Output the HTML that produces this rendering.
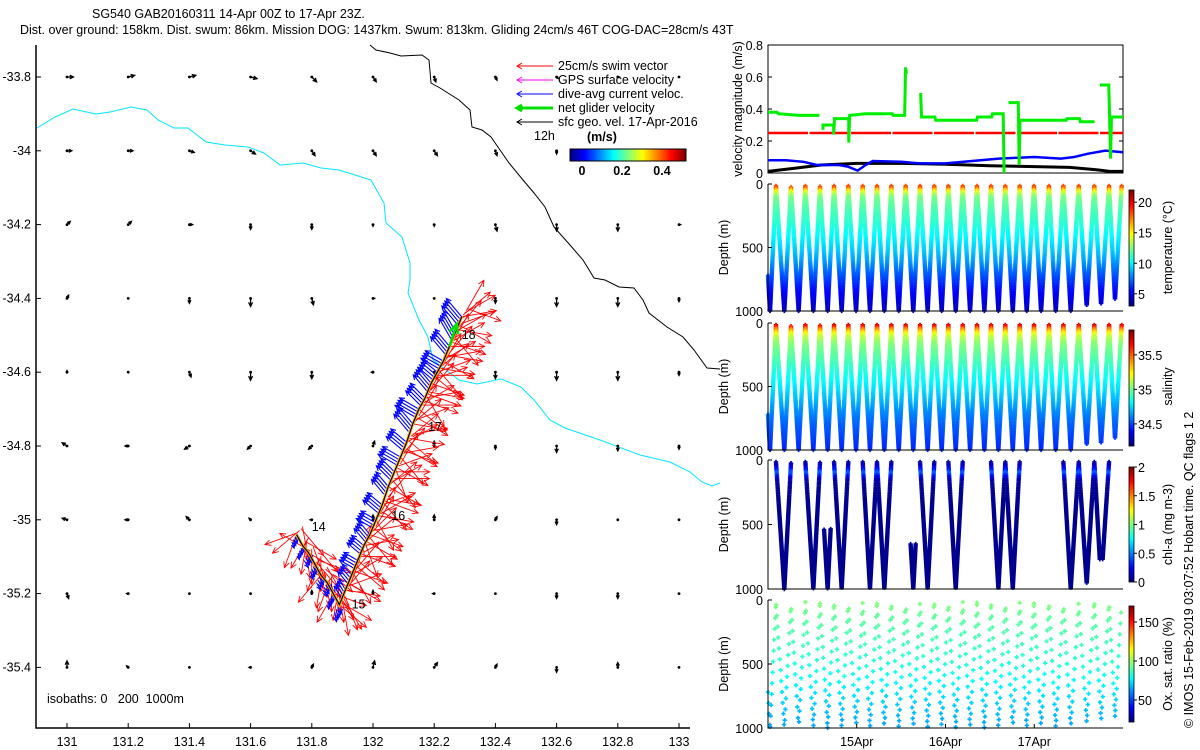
<!DOCTYPE html>
<html><head><meta charset="utf-8">
<style>
html,body{margin:0;padding:0;background:#fff;}
svg{display:block;font-family:"Liberation Sans",Arial,sans-serif;}
text{font-size:12.5px;fill:#000;}
</style></head>
<body>
<svg id="fig" width="1200" height="750" viewBox="0 0 1200 750" xmlns="http://www.w3.org/2000/svg">
<defs>
<linearGradient id="jetH" x1="0" x2="1" y1="0" y2="0">
<stop offset="0" stop-color="#000080"/><stop offset="0.125" stop-color="#0000ff"/><stop offset="0.375" stop-color="#00ffff"/><stop offset="0.625" stop-color="#ffff00"/><stop offset="0.875" stop-color="#ff0000"/><stop offset="1" stop-color="#800000"/>
</linearGradient>
<linearGradient id="jetV" x1="0" x2="0" y1="1" y2="0">
<stop offset="0" stop-color="#000080"/><stop offset="0.125" stop-color="#0000ff"/><stop offset="0.375" stop-color="#00ffff"/><stop offset="0.625" stop-color="#ffff00"/><stop offset="0.875" stop-color="#ff0000"/><stop offset="1" stop-color="#800000"/>
</linearGradient>
</defs>
<text x="92" y="18">SG540 GAB20160311 14-Apr 00Z to 17-Apr 23Z.</text>
<text x="20" y="34">Dist. over ground: 158km. Dist. swum: 86km. Mission DOG: 1437km. Swum: 813km. Gliding 24cm/s 46T COG-DAC=28cm/s 43T</text>
<g id="map"></g>
<g id="right"></g>
<text transform="translate(1193,728) rotate(-90)">© IMOS 15-Feb-2019 03:07:52 Hobart time. QC flags 1 2</text>
</svg>
<script>
// ---------------- data ----------------
const lonTicks = [131,131.2,131.4,131.6,131.8,132,132.2,132.4,132.6,132.8,133];
const latTicks = [-33.8,-34,-34.2,-34.4,-34.6,-34.8,-35,-35.2,-35.4];
const geoU = [
 [0.04,0.04,0.04,0.04,0.03,0.02,0.01,0.01,0.01,0.01,0.0],
 [0.03,0.03,0.03,0.03,0.02,0.02,0.02,0.01,0.0,0.0,0.0],
 [0.02,0.02,0.02,0.0,0.0,0.0,0.0,0.01,0.0,0.0,0.01],
 [0.01,0.0,0.0,0.0,0.01,0.01,0.0,0.0,0.0,0.0,0.0],
 [0.0,0.0,0.01,0.0,0.0,-0.01,0.0,0.0,0.0,0.0,0.0],
 [-0.03,-0.02,-0.03,-0.02,-0.02,0.01,0.0,0.0,0.0,0.0,0.0],
 [-0.03,-0.02,-0.02,-0.01,-0.01,0.0,0.0,0.01,0.0,0.0,0.0],
 [0.01,-0.01,0.0,0.0,0.0,0.0,-0.01,0.0,0.0,0.0,0.0],
 [0.0,-0.01,0.0,-0.01,0.01,0.01,0.02,0.01,0.0,0.0,0.0]];
const geoV = [
 [0.0,0.01,0.01,-0.01,-0.03,-0.03,-0.03,-0.02,-0.01,0.0,0.0],
 [0.0,0.0,-0.01,-0.02,-0.03,-0.03,-0.03,-0.03,-0.02,-0.01,-0.01],
 [0.02,0.02,0.0,-0.03,-0.03,-0.01,-0.01,-0.04,-0.04,-0.04,0.0],
 [0.02,0.0,-0.03,-0.05,-0.04,0.0,0.0,-0.03,-0.05,-0.05,-0.02],
 [0.01,0.0,-0.03,-0.05,-0.04,0.0,-0.01,-0.04,-0.05,-0.05,-0.02],
 [0.02,0.0,-0.02,-0.02,-0.02,0.03,0.03,-0.02,-0.04,-0.03,-0.02],
 [0.01,0.0,0.02,0.01,0.0,0.03,0.03,0.02,-0.03,0.0,0.0],
 [-0.03,0.0,0.0,0.0,0.02,0.02,0.0,0.0,-0.03,-0.03,0.0],
 [0.04,0.01,0.0,0.0,0.02,0.04,0.03,0.02,-0.03,0.03,0.0]];
const fixLon = [131.75,131.77,131.79,131.81,131.83,131.85,131.87,131.89,131.91,131.93,131.95,131.97,131.99,132.01,132.03,132.05,132.07,132.09,132.11,132.13,132.15,132.17,132.19,132.21,132.23,132.25,132.27,132.29];
const fixLat = [-35.04,-35.07,-35.09,-35.12,-35.15,-35.17,-35.20,-35.23,-35.19,-35.15,-35.11,-35.07,-35.04,-35.00,-34.96,-34.91,-34.87,-34.83,-34.79,-34.74,-34.70,-34.67,-34.63,-34.60,-34.57,-34.53,-34.49,-34.45];
const swimDirA = [200,150,120,160,220,140,110,130,100,60,130,80,110,150,70,120,90,140,60,100,130,80,110,70,120,90,60,80];
const swimDirB = [250,170,300,140,190,160,210,120,40,150,20,160,45,30,140,50,160,40,130,50,30,150,40,140,60,30,100,50];
const swimDirC = [230,120,180,110,170,200,150,170,70,110,90,120,80,100,110,60,120,80,100,70,90,110,70,100,80,110,40,60];
const swimDirD = [140,190,160,200,130,180,170,150,120,40,110,50,130,60,100,140,70,110,50,120,60,100,130,50,100,60,120,30];
const swimDirE = [170,210,140,180,150,120,190,160,20,130,60,140,30,120,40,90,30,120,80,30,110,40,90,30,40,140,70,110];
const swimSpd = 0.22;
const dacDir = [160,170,150,160,150,140,180,170,330,320,300,310,320,300,310,320,315,300,310,320,300,315,320,310,300,320,330,320];
const dacSpd = [0.04,0.04,0.05,0.05,0.05,0.05,0.05,0.06,0.08,0.09,0.10,0.10,0.11,0.11,0.12,0.12,0.12,0.13,0.13,0.14,0.14,0.13,0.13,0.12,0.13,0.14,0.15,0.15];
const dayLabels = ['14','15','16','17','18'];
const dayLon = [131.80,131.93,132.06,132.18,132.29];
const dayLat = [-35.03,-35.24,-35.00,-34.76,-34.51];
const coastPx = [[370,45],[376,50],[390,53],[401,56],[422,55],[429,60],[431,83],[440,88],[459,100],[470,110],[472,127],[482,130],[491,137],[500,150],[509,163],[523,180],[534,193],[545,207],[554,227],[570,245],[583,260],[594,278],[605,280],[619,287],[634,288],[643,300],[649,313],[667,327],[683,337],[694,350],[707,368],[720,369]];
const iso200Px = [[37,128],[55,117],[73,109],[96,114],[110,112],[131,107],[147,110],[158,120],[174,128],[188,128],[206,142],[225,145],[248,147],[264,153],[280,165],[303,163],[321,168],[339,170],[355,175],[371,180],[384,203],[386,223],[402,237],[410,263],[410,280],[408,293],[419,320],[428,337],[433,360],[459,380],[477,384],[501,379],[521,387],[534,400],[550,420],[565,428],[600,440],[640,455],[670,462],[690,472],[702,482],[712,486],[720,483]];

const netVel = [[0,0.38],[0.1,0.38],[0.12,0.37],[0.35,0.36],[0.45,0.36],[0.58,0.36],null,[0.62,0.27],[0.62,0.30],[0.74,0.30],[0.74,0.24],[0.75,0.34],[0.91,0.34],[0.91,0.19],[0.92,0.36],[1.1,0.37],[1.4,0.37],[1.41,0.36],[1.54,0.36],[1.55,0.66],[1.56,0.62],null,[1.72,0.50],[1.73,0.35],[1.88,0.35],[1.89,0.33],[2.35,0.33],[2.36,0.35],[2.52,0.35],[2.53,0.37],[2.65,0.37],[2.66,0.0],null,[2.71,0.44],[2.82,0.44],[2.83,0.05],[2.84,0.33],[3.36,0.33],[3.37,0.34],[3.51,0.34],[3.52,0.32],[3.68,0.32],null,[3.74,0.55],[3.84,0.55],[3.86,0.09],[3.87,0.35],[4.0,0.35]];
const swimVel = [[0,0.25],[4,0.25]];
const dacVel = [[0,0.08],[0.2,0.08],[0.4,0.07],[0.55,0.05],[0.8,0.05],[0.9,0.04],[1.01,0.015],[1.1,0.05],[1.18,0.075],[1.5,0.07],[1.7,0.06],[2.0,0.06],[2.3,0.075],[2.6,0.09],[3.0,0.10],[3.3,0.09],[3.45,0.10],[3.6,0.12],[3.8,0.14],[4.0,0.13]];
const geoVel = [[0,0.01],[0.3,0.03],[0.6,0.05],[1.0,0.06],[1.5,0.06],[2.0,0.055],[2.5,0.045],[3.0,0.04],[3.4,0.035],[3.7,0.02],[3.85,0.01],[4.0,0.01]];
const velTicks = [0,0.2,0.4,0.6,0.8];

const diveStart = [0.0,720];
const bottomT = [0.023,0.184,0.345,0.511,0.672,0.830,0.992,1.149,1.311,1.473,1.637,1.799,1.957,2.115,2.277,2.438,2.596,2.758,2.915,3.077,3.242,3.411,3.591,3.753,3.910];
const bottomD = [1000,1000,1000,1000,1000,1000,1000,1000,1000,1000,1000,1000,1000,1000,1000,1000,1000,1000,1000,1000,1000,1000,960,950,910];
const surfT = [0.090,0.259,0.421,0.586,0.744,0.905,1.067,1.228,1.390,1.551,1.713,1.874,2.032,2.194,2.355,2.513,2.674,2.836,2.997,3.166,3.328,3.501,3.677,3.843,3.985];
const surfD = [15,25,15,20,15,15,15,15,15,15,15,15,15,15,15,15,15,15,15,15,15,15,15,15,15];
const chlMin = [0,0,0,0,530,0,0,0,0,0,650,0,0,0,0,0,0,0,0,0,0,0,0,0,0];
const chlMax = [0,1000,0,1000,1000,1000,0,1000,1000,0,1000,1000,0,1000,0,0,1000,1000,0,0,0,1000,1000,770,0];
const profDepth = [0,30,60,100,150,200,300,400,500,600,700,800,900,1000];
const tempProf = [18.5,18,14.5,12.5,12,11.6,11,10.2,9.4,8.4,7.2,6,5,4.2];
const salProf = [35.85,35.6,35.35,35.15,35.05,35.0,34.93,34.85,34.78,34.7,34.62,34.55,34.5,34.45];
const chlProf = [0.05,0.1,0.2,0.45,0.1,0.04,0.03,0.03,0.03,0.03,0.03,0.03,0.03,0.03];
const oxyProf = [97,96,95,93,91,90,88,85,82,79,75,71,67,64];
const dateLabels = ['15Apr','16Apr','17Apr'];
const dateTicks = [1,2,3];

// ---------------- helpers ----------------
const NS='http://www.w3.org/2000/svg';
function mk(tag,attrs,parent){const e=document.createElementNS(NS,tag);for(const k in attrs)e.setAttribute(k,attrs[k]);(parent||svg).appendChild(e);return e;}
const svg=document.getElementById('fig');
const mapG=document.getElementById('map');
const rG=document.getElementById('right');
function jet(v){v=Math.max(0,Math.min(1,v));const c=x=>Math.round(255*Math.max(0,Math.min(1,1.5-Math.abs(4*v-x))));return `rgb(${c(3)},${c(2)},${c(1)})`;}
function interp(d,xs,ys){if(d<=xs[0])return ys[0];for(let i=1;i<xs.length;i++){if(d<=xs[i]){const f=(d-xs[i-1])/(xs[i]-xs[i-1]);return ys[i-1]+f*(ys[i]-ys[i-1]);}}return ys[ys.length-1];}
const LX=lon=>67+(lon-131)*306;
const LY=lat=>77+(-33.8-lat)*369;
const PXS=160;

function arrow(g,x,y,u,v,color,w,head,name){
  const dx=u*PXS, dy=-v*PXS; const L=Math.hypot(dx,dy);
  const x2=x+dx,y2=y+dy;
  const ln=mk('line',{x1:x,y1:y,x2:x2,y2:y2,stroke:color,'stroke-width':w},g);
  
  
  if(L>0.5){const ang=Math.atan2(dy,dx),h=Math.min(head,L*0.4)+1.5;
    const p=mk('path',{d:`M${x2-h*Math.cos(ang-0.45)},${y2-h*Math.sin(ang-0.45)} L${x2},${y2} L${x2-h*Math.cos(ang+0.45)},${y2-h*Math.sin(ang+0.45)}`,stroke:color,fill:'none','stroke-width':w},g);
    
    }
}

// ---------------- map ----------------
(function(){
  const ax=mk('path',{d:'M36,45 L36,728 L690,728',stroke:'#000',fill:'none','stroke-width':1.5},mapG);
  
  
  lonTicks.forEach(l=>{const x=LX(l);
    mk('line',{x1:x,y1:728,x2:x,y2:723,stroke:'#000'},mapG);
    const t=mk('text',{x:x,y:746,'text-anchor':'middle'},mapG);t.textContent=String(l);
    
    });
  latTicks.forEach(l=>{const y=LY(l);
    mk('line',{x1:36,y1:y,x2:41,y2:y,stroke:'#000'},mapG);
    const t=mk('text',{x:31,y:y+4,'text-anchor':'end'},mapG);t.textContent=String(l);
    
    });
  const c=mk('polyline',{points:coastPx.map(p=>p.join(',')).join(' '),fill:'none',stroke:'#000','stroke-width':1},mapG);
  
  
  const i2=mk('polyline',{points:iso200Px.map(p=>p.join(',')).join(' '),fill:'none',stroke:'#00e5ff','stroke-width':1},mapG);
  
  
  latTicks.forEach((lat,r)=>lonTicks.forEach((lon,cI)=>{
    const x=LX(lon),y=LY(lat);
    const d=mk('circle',{cx:x,cy:y,r:1.4,fill:'#000'},mapG);
    
    
    arrow(mapG,x,y,geoU[r][cI],geoV[r][cI],'#000',1.3,3,'geo-vector');
  }));
  fixLon.forEach((lon,i)=>{const x=LX(lon),y=LY(fixLat[i]);
    [swimDirA,swimDirB,swimDirC,swimDirD,swimDirE].forEach((arr,k)=>{const a=arr[i]*Math.PI/180;
      arrow(mapG,x+k*1.5,y-k*2,swimSpd*Math.sin(a),swimSpd*Math.cos(a),'#ff0000',0.9,5,'swim-vector');});
  });
  fixLon.forEach((lon,i)=>{const x=LX(lon),y=LY(fixLat[i]);const a=dacDir[i]*Math.PI/180;
    for(let k=0;k<4;k++){const xx=x-k*1.5,yy=y+k*2.5;
      arrow(mapG,xx,yy,dacSpd[i]*Math.sin(a),dacSpd[i]*Math.cos(a),'#0000ff',1.1,4,'dac-vector');}
  });
  const tp=fixLon.map((lon,i)=>LX(lon)+','+LY(fixLat[i])).join(' ');
  const tr0=mk('polyline',{points:tp,fill:'none',stroke:'#ffb000','stroke-width':3},mapG);
  
  
  const tr=mk('polyline',{points:tp,fill:'none',stroke:'#000','stroke-width':1.2},mapG);
  
  
  const n=fixLon.length-1;
  arrow(mapG,LX(fixLon[n-2]),LY(fixLat[n-2]),0.045,0.14,'#00e000',2.5,9,'net-glider-velocity');
  dayLabels.forEach((s,i)=>{const t=mk('text',{x:LX(dayLon[i]),y:LY(dayLat[i])},mapG);t.textContent=s;
    
    });
  const leg=[['25cm/s swim vector','#ff0000',1],['GPS surface velocity','#ff00ff',1],['dive-avg current veloc.','#0000ff',1],['net glider velocity','#00e000',3],['sfc geo. vel. 17-Apr-2016','#000',1]];
  leg.forEach((L,i)=>{const y=66+i*14;
    const l=mk('path',{d:`M553,${y} L517,${y} M522,${y-3} L517,${y} L522,${y+3}`,stroke:L[1],'stroke-width':L[2],fill:'none'},mapG);
    
    
    const t=mk('text',{x:558,y:y+4},mapG);t.textContent=L[0];
    
    });
  const h=mk('text',{x:534,y:140},mapG);h.textContent='12h';
  
  
  const u=mk('text',{x:587,y:141,'font-weight':'bold'},mapG);u.textContent='(m/s)';
  
  
  const cb=mk('rect',{x:570,y:149,width:116,height:12,fill:'url(#jetH)',stroke:'#000'},mapG);
  
  
  [['0',582],['0.2',622],['0.4',662]].forEach(p=>{const t=mk('text',{x:p[1],y:175,'text-anchor':'middle','font-weight':'bold'},mapG);t.textContent=p[0];
    
    });
  const ib=mk('text',{x:47,y:703,style:'white-space:pre'},mapG);ib.textContent='isobaths: 0   200  1000m';
  
  
})();

// ---------------- right panels ----------------
const X0=768,X1=1123;
const TX=t=>X0+t*(X1-X0)/4;
(function(){
  const top=45,bot=173;const VY=v=>bot-v*(bot-top)/0.8;
  const fr=mk('rect',{x:X0,y:top,width:X1-X0,height:bot-top,fill:'none',stroke:'#000'},rG);
  
  
  velTicks.forEach(v=>{const y=VY(v);
    mk('line',{x1:X0,y1:y,x2:X0+4,y2:y,stroke:'#000'},rG);mk('line',{x1:X1,y1:y,x2:X1-4,y2:y,stroke:'#000'},rG);
    const t=mk('text',{x:763,y:y+5,'text-anchor':'end','font-size':'14'},rG);t.textContent=String(v);
    
    });
  function series(data,color,w,name,dash){let d='',pen=false;data.forEach(p=>{if(!p){pen=false;return;}d+=(pen?'L':'M')+TX(p[0])+','+VY(p[1]);pen=true;});
    const e=mk('path',{d:d,fill:'none',stroke:color,'stroke-width':w},rG);if(dash)e.setAttribute('stroke-dasharray',dash);
    
    }
  series(swimVel,'#ff0000',2.5,'swim-speed-line','40,1.5');
  series(geoVel,'#000',3,'geo-speed-line');
  series(dacVel,'#0000ff',2.5,'dac-speed-line');
  series(netVel,'#00ee00',3,'net-speed-line');
  const yl=mk('text',{transform:`translate(742,${(top+bot)/2}) rotate(-90)`,'text-anchor':'middle','font-size':'12'},rG);yl.textContent='velocity magnitude (m/s)';
  
  

  const panels=[
   {name:'temperature',top:184,bot:311,prof:tempProf,vmin:3,vmax:22,cbTop:190,cbBot:306,ticks:[5,10,15,20],label:'temperature (°C)',step:12,kind:'full'},
   {name:'salinity',top:323,bot:450,prof:salProf,vmin:34.18,vmax:35.86,cbTop:330,cbBot:446,ticks:[34.5,35,35.5],label:'salinity',step:12,kind:'full'},
   {name:'chl',top:460,bot:589,prof:chlProf,vmin:0,vmax:2,cbTop:467,cbBot:582,ticks:[0,0.5,1,1.5,2],label:'chl-a (mg m-3)',step:13,kind:'chl'},
   {name:'oxygen',top:600,bot:728,prof:oxyProf,vmin:21.8,vmax:170.5,cbTop:606,cbBot:722,ticks:[50,100,150],label:'Ox. sat. ratio (%)',step:85,kind:'oxy'}];
  panels.forEach(P=>{
    const g=mk('g',{},rG);
    
    
    const DY=d=>P.top+d/1000*(P.bot-P.top);
    const nodesT=[diveStart[0]],nodesD=[diveStart[1]];
    bottomT.forEach((b,i)=>{nodesT.push(b);nodesD.push(bottomD[i]);nodesT.push(surfT[i]);nodesD.push(surfD[i]);});
    let pts=[];
    for(let i=0;i<nodesT.length-1;i++){
      const dive=Math.floor(i/2);
      const t0=nodesT[i],d0=nodesD[i],t1=nodesT[i+1],d1=nodesD[i+1];
      if(P.kind==='chl'&&chlMax[dive]===0)continue;
      const lo=Math.min(d0,d1),span=Math.abs(d1-d0);const n=Math.max(1,Math.round(span/P.step));
      const off=(P.kind==='oxy')?((dive*23+(i%2)*41)%P.step):0;
      for(let k=0;k<=n;k++){
        const d=lo+k*P.step+off;
        if(d>lo+span)continue;
        const f=(d-d0)/(d1-d0||1);const t=t0+f*(t1-t0);
        if(P.kind==='chl'&&(d<chlMin[dive]||d>chlMax[dive]))continue;
        pts.push([t,d]);
      }
    }
    let path={};
    pts.forEach(p=>{const v=interp(p[1],profDepth,P.prof);const col=jet((v-P.vmin)/(P.vmax-P.vmin));
      const x=TX(p[0]),y=DY(p[1]);const s=2.2;
      (path[col]=path[col]||[]).push(`M${x-s},${y}H${x+s}M${x},${y-s}V${y+s}`);});
    for(const col in path){const e=mk('path',{d:path[col].join(''),stroke:col,'stroke-width':1.7,fill:'none'},g);
      
      }
    const ax=mk('path',{d:`M${X0},${P.top} L${X0},${P.bot} L${X1},${P.bot}`,fill:'none',stroke:'#000'},g);
    
    
    [0,500,1000].forEach(d=>{const y=DY(d);mk('line',{x1:X0,y1:y,x2:X0+4,y2:y,stroke:'#000'},g);
      const t=mk('text',{x:763,y:y+5,'text-anchor':'end','font-size':'14'},g);t.textContent=String(d);
      
      });
    const yt=mk('text',{transform:`translate(728,${(P.top+P.bot)/2}) rotate(-90)`,'text-anchor':'middle','font-size':'14'},g);yt.textContent='Depth (m)';
    
    
    const cb=mk('rect',{x:1129,y:P.cbTop,width:5,height:P.cbBot-P.cbTop,fill:'url(#jetV)',stroke:'#000','stroke-width':0.8},g);
    
    
    P.ticks.forEach(v=>{const y=P.cbBot-(v-P.vmin)/(P.vmax-P.vmin)*(P.cbBot-P.cbTop);
      mk('line',{x1:1134,y1:y,x2:1137,y2:y,stroke:'#000'},g);
      const t=mk('text',{x:1138,y:y+5,'font-size':'14'},g);t.textContent=String(v);
      
      });
    const cl=mk('text',{transform:`translate(1172,${(P.top+P.bot)/2}) rotate(-90)`,'text-anchor':'middle','font-size':'14'},g);cl.textContent=P.label;
    
    
  });
  dateTicks.forEach((d,i)=>{const x=TX(d);mk('line',{x1:x,y1:728,x2:x,y2:724,stroke:'#000'},rG);
    const t=mk('text',{x:x,y:746,'text-anchor':'middle','font-size':'14'},rG);t.textContent=dateLabels[i];
    
    });
})();
</script>
</body></html>
